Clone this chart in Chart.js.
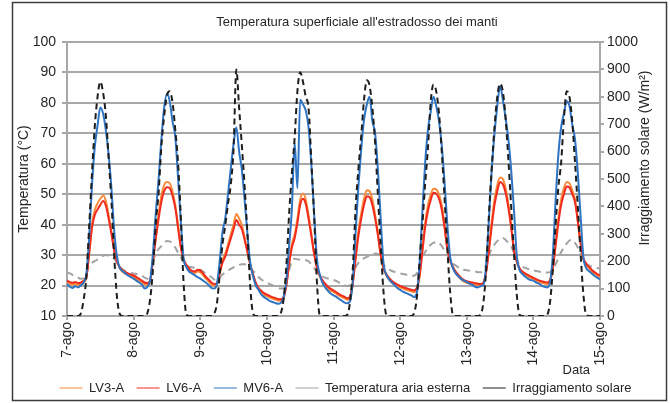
<!DOCTYPE html>
<html>
<head>
<meta charset="utf-8">
<script src="https://cdn.jsdelivr.net/npm/chart.js@4.4.1/dist/chart.umd.min.js"></script>
<style>
  html, body { margin: 0; padding: 0; background: #ffffff; }
  canvas { display: block; }
</style>
</head>
<body>
<canvas id="chart" width="670" height="403"></canvas>
<script>
// Day labels on the time axis (one tick every 24 hourly samples)
const dayLabels = ['7-ago', '8-ago', '9-ago', '10-ago', '11-ago', '12-ago', '13-ago', '14-ago', '15-ago'];

// Hourly sample index from 7-ago 00:00 to 15-ago 00:00
const hours = Array.from({ length: 193 }, (_, i) => i);

// Surface temperature, LV3-A (°C), hourly
const lv3A = [
  21.0, 20.6, 20.3, 20.6, 20.2, 20.4, 21.0, 22.8, 31.0, 40.0, 44.8, 47.0, 48.5, 49.6, 47.8, 43.2, 37.8, 31.8, 27.8, 25.7, 24.5, 23.9, 23.4, 23.0,
  22.7, 22.2, 21.6, 21.0, 20.4, 20.2, 21.6, 28.8, 36.5, 43.5, 49.5, 53.0, 54.0, 53.6, 51.0, 46.5, 39.8, 32.8, 28.4, 26.4, 25.1, 24.3, 24.1, 24.6,
  24.4, 23.4, 22.3, 21.4, 20.4, 19.9, 20.3, 24.3, 28.3, 30.5, 33.5, 36.8, 40.0, 43.5, 42.0, 39.8, 35.8, 31.4, 26.8, 23.3, 20.5, 18.7, 17.8, 17.0,
  16.5, 16.1, 15.7, 15.4, 15.1, 15.0, 15.7, 20.2, 27.8, 33.5, 36.8, 42.0, 48.2, 50.2, 48.3, 43.2, 37.2, 30.8, 25.8, 23.1, 21.3, 20.1, 19.1, 18.4,
  17.9, 17.3, 16.7, 16.2, 15.8, 15.3, 16.1, 21.3, 30.0, 38.0, 43.8, 48.5, 51.3, 51.0, 48.3, 43.3, 37.3, 30.3, 25.6, 23.4, 22.0, 21.1, 20.4, 19.8,
  19.4, 19.0, 18.7, 18.4, 18.1, 17.9, 18.8, 23.3, 32.0, 40.5, 46.3, 49.8, 51.8, 51.6, 50.0, 46.3, 39.8, 32.3, 28.3, 25.8, 24.2, 23.0, 22.0, 21.3,
  20.9, 20.7, 20.5, 20.3, 20.1, 20.0, 20.6, 24.8, 32.5, 41.0, 48.3, 53.0, 55.5, 55.0, 52.0, 46.8, 39.8, 31.8, 27.8, 25.4, 24.1, 23.5, 23.0, 22.5,
  22.0, 21.6, 21.2, 20.9, 20.7, 20.5, 21.4, 25.8, 34.2, 42.0, 48.3, 52.0, 54.0, 53.6, 51.3, 48.3, 41.5, 34.0, 28.6, 26.8, 25.7, 24.7, 23.9, 23.3,
  22.8
];

// Surface temperature, LV6-A (°C), hourly
const lv6A = [
  21.6, 21.2, 20.9, 21.2, 20.8, 21.0, 21.6, 23.0, 30.5, 39.0, 43.2, 45.0, 46.5, 47.8, 46.2, 42.0, 37.0, 31.5, 28.0, 26.1, 25.0, 24.4, 24.0, 23.6,
  23.3, 22.8, 22.2, 21.6, 21.0, 20.8, 22.0, 28.5, 35.5, 42.0, 47.5, 51.0, 52.3, 52.0, 49.5, 45.5, 39.0, 32.5, 28.6, 26.8, 25.6, 24.8, 24.6, 25.2,
  25.0, 24.0, 22.9, 22.0, 21.0, 20.5, 20.8, 24.0, 27.5, 29.5, 32.5, 35.5, 38.5, 41.5, 40.0, 38.5, 35.0, 31.0, 27.0, 23.8, 21.0, 19.2, 18.3, 17.5,
  17.0, 16.6, 16.2, 15.9, 15.6, 15.5, 16.2, 20.0, 27.0, 32.5, 35.5, 40.5, 46.5, 48.5, 46.8, 42.0, 36.5, 30.5, 26.0, 23.5, 21.8, 20.6, 19.6, 18.9,
  18.4, 17.8, 17.2, 16.7, 16.3, 15.8, 16.5, 21.0, 29.0, 36.5, 42.0, 46.5, 49.3, 49.0, 46.5, 42.0, 36.5, 30.0, 25.8, 23.8, 22.5, 21.6, 20.9, 20.3,
  19.9, 19.5, 19.2, 18.9, 18.6, 18.4, 19.2, 23.0, 31.0, 39.0, 44.5, 48.0, 50.5, 50.2, 48.5, 45.0, 39.0, 32.0, 28.5, 26.2, 24.6, 23.5, 22.5, 21.8,
  21.4, 21.2, 21.0, 20.8, 20.6, 20.5, 21.0, 24.5, 31.5, 39.5, 46.5, 51.0, 54.0, 53.3, 50.5, 45.5, 39.0, 31.5, 28.0, 25.8, 24.6, 24.0, 23.5, 23.0,
  22.5, 22.1, 21.7, 21.4, 21.2, 21.0, 21.8, 25.5, 33.0, 40.5, 46.5, 50.0, 52.5, 52.2, 50.0, 47.4, 41.0, 34.0, 29.0, 27.3, 26.2, 25.2, 24.4, 23.8,
  23.3
];

// Surface temperature, MV6-A (°C), hourly
const mv6A = [
  20.5, 19.6, 19.2, 19.8, 19.4, 20.1, 21.0, 24.0, 36.0, 53.0, 65.5, 72.5, 78.5, 76.5, 71.0, 63.0, 52.0, 38.0, 29.5, 25.8, 24.8, 24.0, 23.3, 22.8,
  22.3, 21.6, 21.0, 20.3, 19.0, 19.6, 22.0, 31.0, 44.0, 55.0, 68.0, 78.5, 83.0, 80.5, 74.0, 69.0, 55.5, 41.0, 29.0, 26.0, 24.6, 24.0, 23.4, 22.8,
  22.3, 21.6, 21.0, 20.2, 19.2, 19.0, 20.5, 28.0, 37.5, 42.0, 50.0, 58.5, 66.5, 72.0, 64.0, 58.0, 48.0, 37.0, 27.5, 23.2, 20.0, 18.6, 17.0, 16.2,
  15.6, 15.0, 14.6, 14.3, 14.0, 14.3, 16.0, 21.5, 33.0, 45.0, 67.0, 52.0, 81.0, 79.5, 77.5, 72.0, 60.0, 44.0, 29.0, 23.8, 21.0, 19.4, 18.3, 17.4,
  16.8, 16.3, 15.6, 15.0, 14.4, 14.2, 15.0, 22.0, 38.0, 53.0, 65.0, 74.5, 79.5, 82.0, 74.0, 70.0, 58.0, 42.0, 27.5, 23.6, 22.0, 21.0, 20.2, 19.2,
  18.6, 18.0, 17.6, 17.2, 16.8, 16.2, 17.5, 27.0, 44.0, 60.0, 71.0, 77.0, 82.0, 79.0, 74.0, 66.0, 54.0, 40.0, 29.5, 25.8, 24.0, 23.0, 22.2, 21.6,
  21.2, 20.6, 20.2, 19.6, 19.4, 19.8, 20.2, 27.0, 42.0, 58.0, 70.0, 79.0, 85.5, 81.0, 75.0, 68.0, 58.0, 45.0, 30.0, 25.2, 23.8, 23.0, 22.3, 21.8,
  21.6, 21.0, 20.6, 20.0, 19.6, 19.4, 21.0, 30.0, 48.0, 63.0, 72.0, 76.5, 80.5, 79.0, 73.0, 68.0, 57.0, 43.0, 29.5, 25.8, 24.8, 24.0, 23.2, 22.6,
  22.0
];

// Outdoor air temperature (°C), hourly
const airTemp = [
  24.4, 24.0, 23.5, 23.1, 22.6, 22.2, 22.4, 23.8, 26.5, 27.5, 28.0, 28.6, 29.2, 29.8, 30.0, 29.8, 29.5, 28.8, 27.5, 26.2, 25.3, 24.8, 24.4, 24.1,
  24.0, 23.8, 23.6, 23.2, 22.6, 22.2, 23.5, 28.0, 30.5, 32.0, 33.0, 34.0, 34.6, 34.5, 33.8, 32.5, 30.8, 29.2, 27.8, 26.6, 26.2, 26.0, 25.8, 25.5,
  25.2, 24.6, 24.0, 23.4, 22.8, 22.0, 21.8, 22.6, 23.6, 24.3, 25.0, 25.5, 26.0, 26.4, 26.8, 27.0, 27.0, 26.5, 25.5, 24.8, 24.0, 22.8, 22.0, 21.4,
  21.0, 20.5, 20.1, 19.7, 19.3, 19.0, 19.0, 21.5, 25.0, 28.0, 28.8, 28.6, 28.5, 28.3, 28.3, 28.0, 27.0, 25.8, 24.6, 23.6, 23.0, 22.6, 22.3, 22.0,
  21.8, 21.5, 21.0, 20.6, 20.1, 19.8, 20.2, 23.0, 26.0, 27.5, 28.5, 29.0, 29.4, 29.8, 30.2, 30.5, 30.4, 29.0, 27.0, 25.8, 25.2, 24.8, 24.5, 24.2,
  24.0, 23.8, 23.6, 23.4, 23.3, 23.2, 24.0, 26.0, 29.0, 31.0, 32.3, 33.4, 34.0, 34.3, 34.0, 33.0, 31.5, 30.0, 28.5, 27.2, 26.6, 26.0, 25.6, 25.2,
  25.0, 24.9, 24.7, 24.6, 24.4, 24.4, 25.0, 27.0, 30.0, 32.0, 33.5, 34.6, 35.4, 35.6, 35.0, 34.0, 32.8, 30.8, 28.5, 26.8, 26.2, 25.8, 25.5, 25.2,
  25.0, 24.8, 24.6, 24.4, 24.3, 24.3, 24.4, 25.5, 27.0, 29.0, 31.0, 32.5, 33.8, 34.8, 35.0, 34.0, 32.5, 30.5, 28.3, 27.0, 26.6, 26.2, 26.0, 25.8,
  25.6
];

// Solar irradiance (W/m²), hourly
const solarIrr = [
  0, 0, 0, 0, 0, 10, 60, 145, 330, 520, 690, 800, 855, 815, 730, 575, 420, 220, 70, 8, 0, 0, 0, 0,
  0, 0, 0, 0, 0, 12, 65, 175, 340, 450, 620, 730, 805, 820, 780, 680, 560, 360, 120, 5, 0, 0, 0, 0,
  0, 0, 0, 0, 0, 8, 45, 150, 260, 330, 410, 480, 610, 900, 760, 620, 470, 300, 110, 10, 0, 0, 0, 0,
  0, 0, 0, 0, 0, 10, 60, 180, 370, 520, 650, 820, 890, 855, 800, 760, 570, 370, 130, 5, 0, 0, 0, 0,
  0, 0, 0, 0, 0, 5, 55, 180, 400, 540, 660, 790, 860, 840, 760, 630, 440, 260, 90, 5, 0, 0, 0, 0,
  0, 0, 0, 0, 0, 10, 65, 200, 330, 480, 610, 780, 845, 820, 740, 600, 430, 250, 90, 5, 0, 0, 0, 0,
  0, 0, 0, 0, 0, 5, 50, 170, 370, 540, 690, 800, 848, 820, 720, 570, 400, 230, 80, 5, 0, 0, 0, 0,
  0, 0, 0, 0, 0, 5, 50, 170, 330, 470, 560, 720, 820, 800, 710, 560, 400, 230, 80, 5, 0, 0, 0, 0,
  0
];

const FONT = "'Liberation Sans', Arial, sans-serif";
const TEXT = '#262626';
const AXIS_GRAY = '#a8a8a8';

Chart.defaults.font.family = FONT;
Chart.defaults.font.size = 13;
Chart.defaults.color = TEXT;

// Outer frame, chart title and axis titles
const chartDecor = {
  id: 'chartDecor',
  beforeDraw(chart) {
    const { ctx } = chart;
    ctx.save();
    ctx.fillStyle = '#ffffff';
    ctx.fillRect(0, 0, chart.width, chart.height);
    ctx.strokeStyle = '#3c3c3c';
    ctx.lineWidth = 1.5;
    ctx.strokeRect(12.5, 2.5, 654, 398);
    ctx.restore();
  },
  afterDraw(chart) {
    const { ctx, chartArea } = chart;
    const midY = (chartArea.top + chartArea.bottom) / 2;
    ctx.save();
    ctx.fillStyle = TEXT;
    ctx.textBaseline = 'middle';
    ctx.textAlign = 'center';
    ctx.font = '13px ' + FONT;
    ctx.fillText("Temperatura superficiale all'estradosso dei manti", 357, 22);

    ctx.font = '14px ' + FONT;
    ctx.save();
    ctx.translate(24, midY);
    ctx.rotate(-Math.PI / 2);
    ctx.fillText('Temperatura (°C)', 0, 0);
    ctx.restore();

    ctx.save();
    ctx.translate(chartArea.right + 45, midY - 21);
    ctx.rotate(-Math.PI / 2);
    ctx.fillText('Irraggiamento solare (W/m²)', 0, 0);
    ctx.restore();

    ctx.font = '13px ' + FONT;
    ctx.textAlign = 'right';
    ctx.fillText('Data', chartArea.right - 10, 370);
    ctx.restore();
  }
};

new Chart(document.getElementById('chart'), {
  type: 'line',
  data: {
    labels: hours,
    datasets: [
      { label: 'LV3-A', data: lv3A, borderColor: '#f68b3b', backgroundColor: '#f68b3b', yAxisID: 'y', order: 3 },
      { label: 'LV6-A', data: lv6A, borderColor: '#f02a1c', backgroundColor: '#f02a1c', yAxisID: 'y', order: 2 },
      { label: 'MV6-A', data: mv6A, borderColor: '#2e74c2', backgroundColor: '#2e74c2', yAxisID: 'y', order: 1 },
      { label: 'Temperatura aria esterna', data: airTemp, borderColor: '#a2a2a2', backgroundColor: '#a2a2a2', borderDash: [7, 5], yAxisID: 'y', order: 4 },
      { label: 'Irraggiamento solare', data: solarIrr, borderColor: '#1e1e1e', backgroundColor: '#1e1e1e', borderDash: [6, 4], yAxisID: 'y1', order: 0 }
    ]
  },
  options: {
    responsive: false,
    animation: false,
    devicePixelRatio: 1,
    layout: { padding: { left: 21, right: 0, top: 42, bottom: -1.5 } },
    elements: {
      point: { radius: 0, hoverRadius: 0 },
      line: { borderWidth: 2, cubicInterpolationMode: 'monotone', fill: false }
    },
    scales: {
      x: {
        type: 'linear',
        min: 0,
        max: 192,
        ticks: {
          stepSize: 24,
          autoSkip: false,
          maxRotation: 90,
          minRotation: 90,
          padding: 2,
          font: { size: 14 },
          callback: (v) => (Number.isInteger(v / 24) ? dayLabels[v / 24] : '')
        },
        grid: { drawOnChartArea: false, tickLength: 4, color: AXIS_GRAY, lineWidth: 2 },
        border: { color: AXIS_GRAY, width: 2 },
        afterFit: (s) => { s.height = 53; }
      },
      y: {
        position: 'left',
        min: 10,
        max: 100,
        ticks: { stepSize: 10, padding: 6, font: { size: 14 }, callback: (v) => String(v) },
        grid: { color: AXIS_GRAY, lineWidth: 2, tickLength: 5 },
        border: { color: AXIS_GRAY, width: 2 },
        afterFit: (s) => { s.width = 46; }
      },
      y1: {
        position: 'right',
        min: 0,
        max: 1000,
        ticks: { stepSize: 100, padding: 3, font: { size: 14 }, callback: (v) => String(v) },
        grid: { drawOnChartArea: false, color: AXIS_GRAY, lineWidth: 2, tickLength: 4 },
        border: { color: AXIS_GRAY, width: 2 },
        afterFit: (s) => { s.width = 70; }
      }
    },
    plugins: {
      title: { display: false },
      tooltip: { enabled: false },
      legend: {
        position: 'bottom',
        labels: {
          usePointStyle: true,
          pointStyle: 'line',
          pointStyleWidth: 23,
          padding: 12.5,
          color: TEXT,
          sort: (a, b) => a.datasetIndex - b.datasetIndex
        }
      }
    }
  },
  plugins: [chartDecor]
});
</script>
</body>
</html>
